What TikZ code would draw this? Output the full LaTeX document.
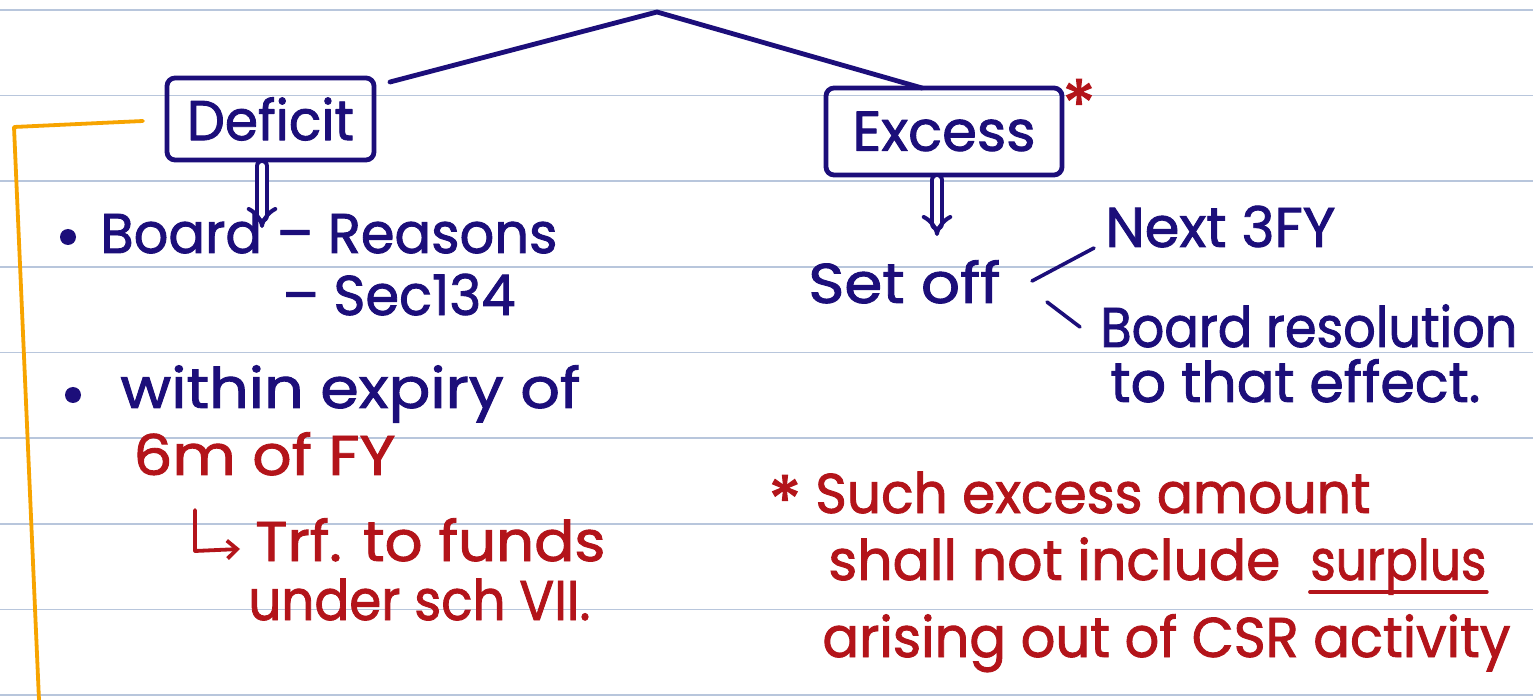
\documentclass[tikz,border=0pt]{standalone}
\usepackage{fontspec}
\usepackage{graphicx}
\setmainfont{Poppins}[BoldFont={Poppins},BoldFeatures={FakeBold=1.6}]
\usetikzlibrary{arrows.meta}
\definecolor{ink}{HTML}{1C0E7A}
\definecolor{redink}{HTML}{B3141A}
\definecolor{orangeink}{HTML}{F7A400}
\definecolor{ruleblue}{HTML}{B8C6DC}
\newcommand\wt[2]{\resizebox{#1}{\height}{#2}}
\begin{document}
\begin{tikzpicture}[x=0.5pt,y=-0.5pt,
  pen/.style={draw=ink,line width=2.4pt,line cap=round,line join=round},
  redpen/.style={draw=redink,line width=1.9pt,line cap=round,line join=round},
  orangepen/.style={draw=orangeink,line width=1.9pt,line cap=round,line join=round},
  rulel/.style={draw=ruleblue,line width=0.8pt},
  box/.style={pen,rounded corners=4pt,inner sep=0pt},
  hwfont/.style={font=\fontsize{28}{30}\selectfont\bfseries},
  hw/.style={hwfont,inner sep=0pt,anchor=base west,text=ink},
  hwr/.style={hw,text=redink},
  dblarrow/.style={draw=ink,line width=2pt,double distance=3pt,-{Implies},line cap=round},
  bulletdot/.style={circle,fill=ink,draw=none,inner sep=0pt,minimum size=8pt},
]
\useasboundingbox (0,0) rectangle (1533,700);
\fill[white] (0,0) rectangle (1533,700);
% ruled paper
\foreach \yy in {10,95.5,181,267,352.5,438,524,609.5,695}
  \draw[rulel] (0,\yy) -- (1533,\yy);

% boxes
\node[box,minimum width=103.5pt,minimum height=41pt,hwfont,text=ink] (deficit) at (270.5,119) {\wt{83.5pt}{Deficit}};
\node[box,minimum width=118pt,minimum height=43.5pt,hwfont,text=ink] (excess) at (944,131.5) {\wt{91.5pt}{Excess}};
\node[hwfont,text=redink,inner sep=0pt,font=\fontsize{34}{36}\selectfont\bfseries] (star) at (1079,104) {*};

% top branching
\coordinate (top) at (657,12);
\coordinate (defend) at (390,82);
\coordinate (excend) at (922,88);
\draw[pen] (defend) -- (top) -- (excend);

% orange margin line
\coordinate (orgstart) at (143,121);
\coordinate (orgcorner) at (14,127);
\coordinate (orgend) at (39,700);
\draw[orangepen] (orgstart) -- (orgcorner) -- (orgend);

% deficit side
\coordinate (da1) at (262,166);
\coordinate (da2) at (262,228);
\draw[dblarrow] (da1) -- (da2);
\node[bulletdot] (bul1) at (68,237) {};
\node[hw] (board) at (100,253) {\wt{228.5pt}{Board – Reasons}};
\node[hw] (sec) at (282,315) {\wt{116.5pt}{– Sec134}};
\node[bulletdot] (bul2) at (73,395) {};
\node[hw] (within) at (120,408) {\wt{230pt}{within expiry of}};
\node[hwr] (sixm) at (133,475) {\wt{131pt}{6m of FY}};
\coordinate (hk1) at (195,510);
\coordinate (hk2) at (195,551);
\coordinate (hk3) at (240,549);
\draw[redpen,-{Straight Barb[length=5pt,width=9pt]}] (hk1) -- (hk2) -- (hk3);
\node[hwr] (trf) at (255,561) {\wt{175pt}{Trf. to funds}};
\node[hwr] (under) at (248,620) {\wt{171pt}{under sch VII.}};

% excess side
\coordinate (ea1) at (937,180);
\coordinate (ea2) at (937,236);
\draw[dblarrow] (ea1) -- (ea2);
\node[hw] (setoff) at (808,303) {\wt{96pt}{Set off}};
\coordinate (b1s) at (1032,281);
\coordinate (b1e) at (1094,248);
\coordinate (b2s) at (1047,302);
\coordinate (b2e) at (1080,327);
\draw[pen,line width=1.8pt] (b1s) -- (b1e);
\draw[pen,line width=1.8pt] (b2s) -- (b2e);
\node[hw] (next) at (1105,247) {\wt{115pt}{Next 3FY}};
\node[hw] (boardres) at (1100,347) {\wt{208.5pt}{Board resolution}};
\node[hw] (effect) at (1110,402) {\wt{185pt}{to that effect.}};

% note
\node[hwr,font=\fontsize{34}{36}\selectfont\bfseries] (star2) at (768,525) {*};
\node[hwr] (such) at (815,513) {\wt{277.5pt}{Such excess amount}};
\node[hwr] (shall) at (828,580) {\wt{226pt}{shall not include}};
\node[hwr] (surplus) at (1310,580) {\wt{88pt}{surplus}};
\draw[redpen] ([yshift=-6pt]surplus.base west) -- ([yshift=-6pt]surplus.base east);
\node[hwr] (arising) at (822,657) {\wt{344pt}{arising out of CSR activity}};
\end{tikzpicture}
\end{document}
